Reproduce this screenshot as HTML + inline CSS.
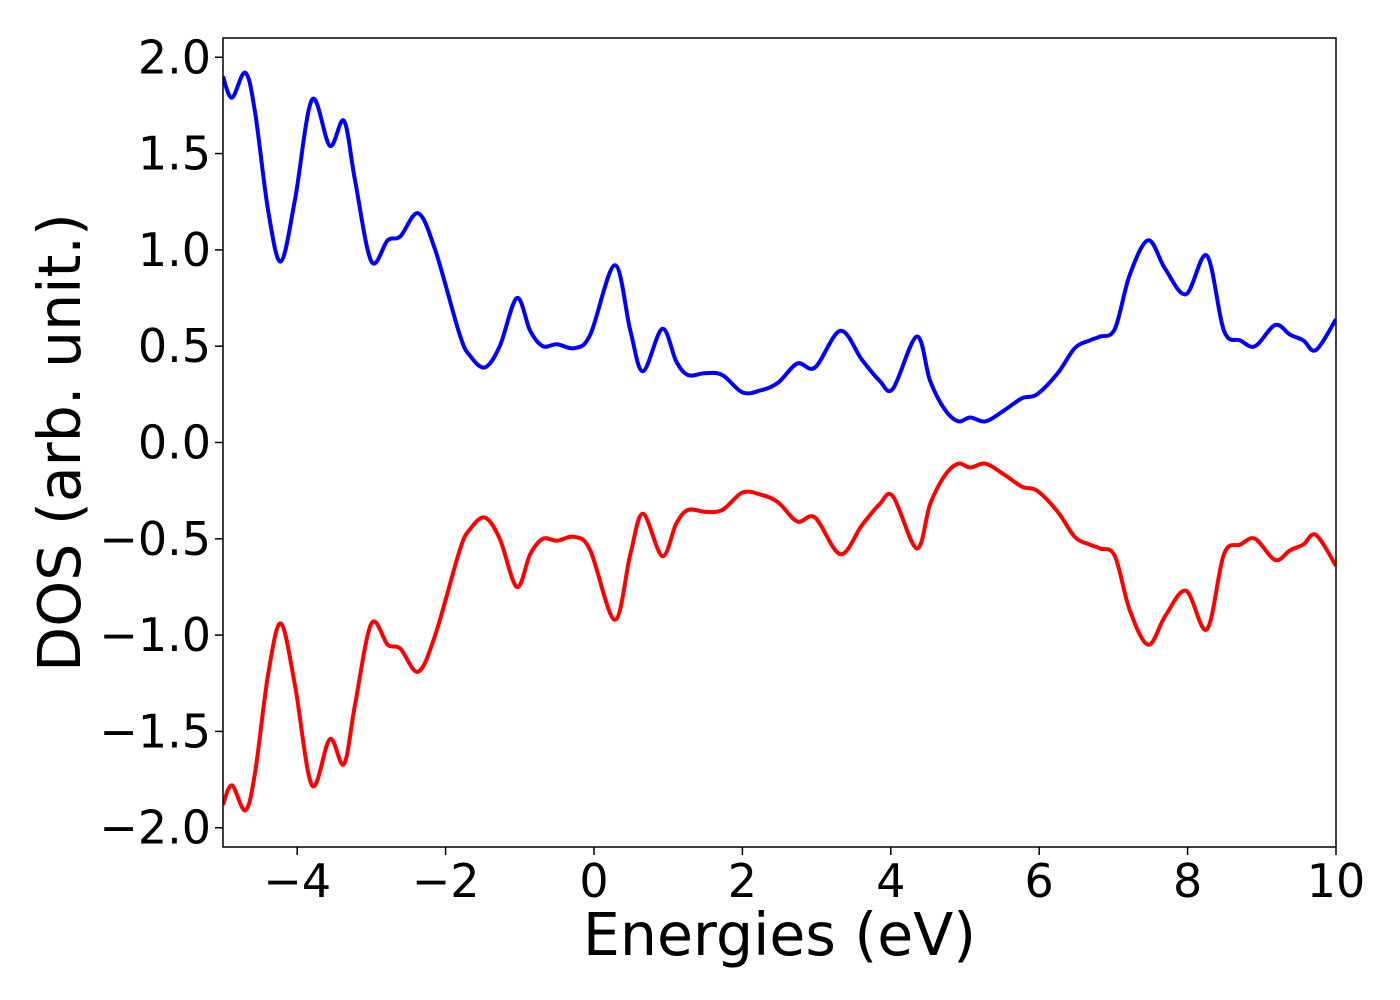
<!DOCTYPE html>
<html><head><meta charset="utf-8"><style>
html,body{margin:0;padding:0;background:#fff;}
svg{display:block;font-family:"DejaVu Sans","Liberation Sans",sans-serif;}
</style></head><body>
<svg id="chart" width="1400" height="1000" xmlns="http://www.w3.org/2000/svg">
<g id="plot"></g>
</svg>
<script>
const energies = [-5,-4.88,-4.70,-4.57,-4.39,-4.22,-4.03,-3.80,-3.56,-3.37,-3.22,-3.0,-2.78,-2.61,-2.37,-2.14,-1.81,-1.67,-1.47,-1.27,-1.04,-0.86,-0.69,-0.50,-0.26,-0.05,0.28,0.49,0.66,0.92,1.11,1.27,1.50,1.73,2.0,2.24,2.48,2.74,2.98,3.32,3.61,3.85,4.03,4.35,4.53,4.73,4.91,5.07,5.28,5.54,5.77,5.97,6.25,6.48,6.68,6.82,7.02,7.22,7.47,7.70,7.98,8.26,8.49,8.71,8.91,9.18,9.38,9.56,9.73,10];
const dosUp = [1.90,1.79,1.92,1.72,1.20,0.94,1.26,1.78,1.54,1.67,1.36,0.94,1.05,1.07,1.19,1.00,0.56,0.45,0.39,0.50,0.75,0.58,0.50,0.51,0.49,0.56,0.92,0.58,0.37,0.59,0.42,0.35,0.36,0.35,0.26,0.27,0.31,0.41,0.39,0.58,0.43,0.32,0.28,0.55,0.32,0.17,0.11,0.13,0.11,0.17,0.23,0.25,0.36,0.49,0.53,0.55,0.59,0.87,1.05,0.90,0.77,0.97,0.58,0.53,0.50,0.61,0.56,0.53,0.48,0.64];
const dosDown = [-1.88,-1.78,-1.91,-1.72,-1.20,-0.94,-1.26,-1.78,-1.54,-1.67,-1.36,-0.94,-1.05,-1.07,-1.19,-1.00,-0.56,-0.45,-0.39,-0.50,-0.75,-0.58,-0.50,-0.51,-0.49,-0.56,-0.92,-0.58,-0.37,-0.59,-0.42,-0.35,-0.36,-0.35,-0.26,-0.27,-0.31,-0.41,-0.39,-0.58,-0.43,-0.32,-0.28,-0.55,-0.32,-0.17,-0.11,-0.13,-0.11,-0.17,-0.23,-0.25,-0.36,-0.49,-0.53,-0.55,-0.59,-0.87,-1.05,-0.90,-0.77,-0.97,-0.58,-0.53,-0.50,-0.61,-0.56,-0.53,-0.48,-0.64];
const xTicks = [-4,-2,0,2,4,6,8,10];
const xTickLabels = ["\u22124","\u22122","0","2","4","6","8","10"];
const yTicks = [-2,-1.5,-1,-0.5,0,0.5,1,1.5,2];
const yTickLabels = ["\u22122.0","\u22121.5","\u22121.0","\u22120.5","0.0","0.5","1.0","1.5","2.0"];

const L=223,R=1336,T=38,B=847,xmin=-5,xmax=10,ymin=-2.1,ymax=2.1;
const sx=v=>L+(v-xmin)/(xmax-xmin)*(R-L);
const sy=v=>B-(v-ymin)/(ymax-ymin)*(B-T);
const NS="http://www.w3.org/2000/svg";
const svg=document.getElementById('chart');
function mk(tag,attrs,parent){const e=document.createElementNS(NS,tag);for(const k in attrs)e.setAttribute(k,attrs[k]);(parent||svg).appendChild(e);return e;}

const cp=mk('clipPath',{id:'clip'});mk('rect',{x:L,y:T,width:R-L,height:B-T},cp);

function pathFor(xs,ys){
  const p=xs.map((x,i)=>[sx(x),sy(ys[i])]);
  let d=`M${p[0][0]},${p[0][1]}`;
  for(let i=0;i<p.length-1;i++){
    const p0=p[Math.max(0,i-1)],p1=p[i],p2=p[i+1],p3=p[Math.min(p.length-1,i+2)];
    const c1=[p1[0]+(p2[0]-p0[0])/6,p1[1]+(p2[1]-p0[1])/6];
    const c2=[p2[0]-(p3[0]-p1[0])/6,p2[1]-(p3[1]-p1[1])/6];
    d+=` C${c1[0]},${c1[1]} ${c2[0]},${c2[1]} ${p2[0]},${p2[1]}`;
  }
  return d;
}
const up=mk('path',{d:pathFor(energies,dosUp),fill:'none',stroke:'#0000ff','stroke-width':4,'clip-path':'url(#clip)'});


const dn=mk('path',{d:pathFor(energies,dosDown),fill:'none',stroke:'#ff0000','stroke-width':4,'clip-path':'url(#clip)'});



const frame=mk('rect',{x:L,y:T,width:R-L,height:B-T,fill:'none',stroke:'#000','stroke-width':1.5});



xTicks.forEach((v,i)=>{
  const t=mk('line',{x1:sx(v),x2:sx(v),y1:B,y2:B+8,stroke:'#000','stroke-width':1.5});
  
  
  const tx=mk('text',{x:sx(v),y:B+50,'font-size':46,'text-anchor':'middle'});
  tx.textContent=xTickLabels[i];
  
  
});
yTicks.forEach((v,i)=>{
  const t=mk('line',{x1:L-8,x2:L,y1:sy(v),y2:sy(v),stroke:'#000','stroke-width':1.5});
  
  
  const tx=mk('text',{x:L-12,y:sy(v)+16,'font-size':46,'text-anchor':'end'});
  tx.textContent=yTickLabels[i];
  
  
});
const xl=mk('text',{x:(L+R)/2,y:955,'font-size':58.5,'text-anchor':'middle'});
xl.textContent='Energies (eV)';


const yl=mk('text',{x:0,y:0,'font-size':58.5,'text-anchor':'middle',transform:`translate(80,${(T+B)/2}) rotate(-90)`});
yl.textContent='DOS (arb. unit.)';


</script>
</body></html>
